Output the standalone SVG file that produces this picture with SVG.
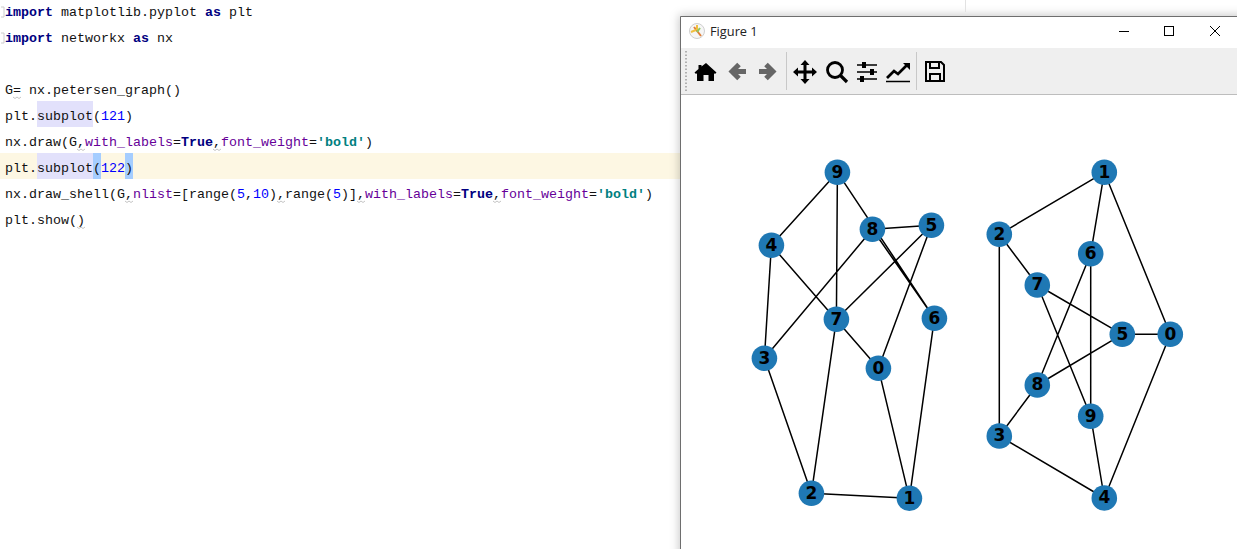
<svg xmlns="http://www.w3.org/2000/svg" width="1237" height="549" viewBox="0 0 1237 549">
<defs>
<filter id="blur" x="-10%" y="-10%" width="120%" height="120%"><feGaussianBlur stdDeviation="5"/></filter>
</defs>
<style>
.code{font-family:"Liberation Mono",monospace;font-size:13.33px;fill:#111;white-space:pre}
.k{font-weight:bold;fill:#000080}
.n{fill:#0000ff}
.a{fill:#660099}
.s{font-weight:bold;fill:#008080}
.sq{fill:none;stroke:#b5b5b5;stroke-width:.8}
.e{stroke:#000;stroke-width:1.5;fill:none}
.nd{fill:#1f78b4}
.lb{font-family:"DejaVu Sans",sans-serif;font-weight:bold;font-size:17px;fill:#000;text-anchor:middle}
.ico{fill:#000}
.gr{fill:none;stroke:#666;stroke-width:5}
.sep{stroke:#c8c8c8;stroke-width:1}
.wb{stroke:#000;stroke-width:1;fill:none}
</style>
<rect width="1237" height="549" fill="#fff"/>
<g id="editor">
<rect x="0" y="153" width="680" height="26" fill="#fdf7e3"/>
<rect x="37" y="101" width="56" height="26" fill="#e2e1fb"/>
<rect x="37" y="153" width="56" height="26" fill="#e2e1fb"/>
<rect x="93" y="153" width="8" height="26" fill="#a5cdff"/>
<rect x="125" y="153" width="8" height="26" fill="#a5cdff"/>
<path d="M1 7h3v10H1M1 33h3v10H1" fill="none" stroke="#ccc"/>
<text class="code" x="5" y="16"><tspan class="k">import</tspan> matplotlib.pyplot <tspan class="k">as</tspan> plt</text>
<text class="code" x="5" y="42"><tspan class="k">import</tspan> networkx <tspan class="k">as</tspan> nx</text>
<text class="code" x="5" y="94">G= nx.petersen_graph()</text>
<text class="code" x="5" y="120">plt.subplot(<tspan class="n">121</tspan>)</text>
<text class="code" x="5" y="146">nx.draw(G,<tspan class="a">with_labels</tspan>=<tspan class="k">True</tspan>,<tspan class="a">font_weight</tspan>=<tspan class="s">'bold'</tspan>)</text>
<text class="code" x="5" y="172">plt.subplot(<tspan class="n">122</tspan>)</text>
<text class="code" x="5" y="198">nx.draw_shell(G,<tspan class="a">nlist</tspan>=[range(<tspan class="n">5</tspan>,<tspan class="n">10</tspan>),range(<tspan class="n">5</tspan>)],<tspan class="a">with_labels</tspan>=<tspan class="k">True</tspan>,<tspan class="a">font_weight</tspan>=<tspan class="s">'bold'</tspan>)</text>
<text class="code" x="5" y="224">plt.show()</text>
<path class="sq" d="M13 97l2 1.500 2-1.500 2 1.500 2-1.500M77 149l2 1.500 2-1.500 2 1.500 2-1.500M213 149l2 1.500 2-1.500 2 1.500 2-1.500M125 201l2 1.500 2-1.500 2 1.500 2-1.500M277 201l2 1.500 2-1.500 2 1.500 2-1.500M357 201l2 1.500 2-1.500 2 1.500 2-1.500M493 201l2 1.500 2-1.500 2 1.500 2-1.500M77 227l2 1.500 2-1.500 2 1.500 2-1.500"/>
</g>
<g id="chrome">
<rect x="679" y="15" width="600" height="560" fill="#000" fill-opacity=".22" filter="url(#blur)"/>
<path d="M965.500 0V12" stroke="#e2e2e2"/>
<rect x="681" y="17" width="556" height="532" fill="#fff"/>
<rect x="681" y="48" width="556" height="46" fill="#efefef"/>
<path d="M681 94.500H1237" stroke="#bdbdbd"/>
<path d="M680.500 549V16.500H1237" fill="none" stroke="#6e6e6e"/>
<circle cx="697" cy="31" r="7.500" fill="#f6f6f6" stroke="#cfcfcf"/>
<path d="M694 27l7 9" stroke="#e0803a" stroke-width="2"/>
<path d="M697 25v5M691 32l5-2" stroke="#f0c040" stroke-width="2"/>
<path d="M697 32l3-4" stroke="#90c860" stroke-width="2"/>
<text x="710" y="36" font-family="Open Sans,sans-serif" font-size="12.800" fill="#222">Figure 1</text>
<path d="M1119 31.500H1129" class="wb"/>
<rect x="1164.500" y="26.500" width="9" height="9" class="wb"/>
<path d="M1210 26l10 10M1220 26l-10 10" class="wb"/>
<path d="M686 51V91" stroke="#b0b0b0" stroke-width="2" stroke-dasharray="1.500 2"/>
<path class="sep" d="M786.500 52V90M916.500 52V90"/>
<path class="ico" d="M706 63l10.500 9.500-1.500 1.500-1-.8V81h-5.500v-6h-5v6H697v-7.800l-1 .8-1.500-1.500 4-3.600V65h3v1.400z"/>
<path class="gr" d="M746 71.500H732M739 64.500l-7 7 7 7"/>
<path class="gr" d="M759 71.500H773M766 64.500l7 7-7 7"/>
<path class="ico" d="M805 60l4.500 5h-3v5.500h5.500v-3l5 4.500-5 4.500v-3h-5.500V79h3l-4.500 5-4.500-5h3v-5.500h-5.500v3l-5-4.500 5-4.500v3h5.500V65h-3z"/>
<circle cx="835" cy="70" r="7.500" fill="none" stroke="#000" stroke-width="2.800"/>
<path d="M840 75l7 7" stroke="#000" stroke-width="3.200"/>
<path d="M857 65h20M857 72h20M857 79h20" stroke="#000" stroke-width="1.500"/>
<path class="ico" d="M862 62h4v6h-4zM870 69h4v6h-4zM860 76h4v6h-4z"/>
<path d="M886 81.500h24" stroke="#000" stroke-width="1.500"/>
<path d="M887 78l7-7 4 3 9-9" fill="none" stroke="#000" stroke-width="2.800"/>
<path class="ico" d="M903 63h7v7z"/>
<path d="M926 62h15l3 3v16h-18z" fill="none" stroke="#000" stroke-width="2"/>
<path d="M930 62v6h9v-6M930 81v-7h10v7" fill="none" stroke="#000" stroke-width="2"/>
</g>
<g id="connectors">
<g id="edges-left" transform="translate(.4 .3)">
<path class="e" d="M878 368L909 498M878 368L771 245M878 368L931 225M909 498L811 493M909 498L934 318M811 493L764 358M811 493L836 319M764 358L771 245M764 358L872 229M771 245L837 172M931 225L836 319M931 225L872 229M934 318L872 229M934 318L837 172M836 319L837 172"/>
</g>
<g id="edges-right">
<path class="e" d="M1170.300 334.300L1104.300 172.300M1170.300 334.300L1104.300 498M1170.300 334.300L1122.300 334.300M1104.300 172.300L999.300 234.300M1104.300 172.300L1090.700 253.700M999.300 234.300L999.300 436M999.300 234.300L1037.300 285M999.300 436L1104.300 498M999.300 436L1037.300 385M1104.300 498L1090.700 416.300M1122.300 334.300L1037.300 285M1122.300 334.300L1037.300 385M1090.700 253.700L1037.300 385M1090.700 253.700L1090.700 416.300M1037.300 285L1090.700 416.300"/>
</g>
</g>
<g id="nodes-left" transform="translate(.4 .3)">
<g id="L0"><circle class="nd" cx="878" cy="368" r="12.800"/><text class="lb" x="878" y="373.300">0</text></g>
<g id="L1"><circle class="nd" cx="909" cy="498" r="12.800"/><text class="lb" x="909" y="503.300">1</text></g>
<g id="L2"><circle class="nd" cx="811" cy="493" r="12.800"/><text class="lb" x="811" y="498.300">2</text></g>
<g id="L3"><circle class="nd" cx="764" cy="358" r="12.800"/><text class="lb" x="764" y="363.300">3</text></g>
<g id="L4"><circle class="nd" cx="771" cy="245" r="12.800"/><text class="lb" x="771" y="250.300">4</text></g>
<g id="L5"><circle class="nd" cx="931" cy="225" r="12.800"/><text class="lb" x="931" y="230.300">5</text></g>
<g id="L6"><circle class="nd" cx="934" cy="318" r="12.800"/><text class="lb" x="934" y="323.300">6</text></g>
<g id="L7"><circle class="nd" cx="836" cy="319" r="12.800"/><text class="lb" x="836" y="324.300">7</text></g>
<g id="L8"><circle class="nd" cx="872" cy="229" r="12.800"/><text class="lb" x="872" y="234.300">8</text></g>
<g id="L9"><circle class="nd" cx="837" cy="172" r="12.800"/><text class="lb" x="837" y="177.300">9</text></g>
</g>
<g id="nodes-right">
<g id="R0"><circle class="nd" cx="1170.300" cy="334.300" r="12.800"/><text class="lb" x="1170.300" y="339.600">0</text></g>
<g id="R1"><circle class="nd" cx="1104.300" cy="172.300" r="12.800"/><text class="lb" x="1104.300" y="177.600">1</text></g>
<g id="R2"><circle class="nd" cx="999.300" cy="234.300" r="12.800"/><text class="lb" x="999.300" y="239.600">2</text></g>
<g id="R3"><circle class="nd" cx="999.300" cy="436" r="12.800"/><text class="lb" x="999.300" y="441.300">3</text></g>
<g id="R4"><circle class="nd" cx="1104.300" cy="498" r="12.800"/><text class="lb" x="1104.300" y="503.300">4</text></g>
<g id="R5"><circle class="nd" cx="1122.300" cy="334.300" r="12.800"/><text class="lb" x="1122.300" y="339.600">5</text></g>
<g id="R6"><circle class="nd" cx="1090.700" cy="253.700" r="12.800"/><text class="lb" x="1090.700" y="259">6</text></g>
<g id="R7"><circle class="nd" cx="1037.300" cy="285" r="12.800"/><text class="lb" x="1037.300" y="290.300">7</text></g>
<g id="R8"><circle class="nd" cx="1037.300" cy="385" r="12.800"/><text class="lb" x="1037.300" y="390.300">8</text></g>
<g id="R9"><circle class="nd" cx="1090.700" cy="416.300" r="12.800"/><text class="lb" x="1090.700" y="421.600">9</text></g>
</g>
</svg>
